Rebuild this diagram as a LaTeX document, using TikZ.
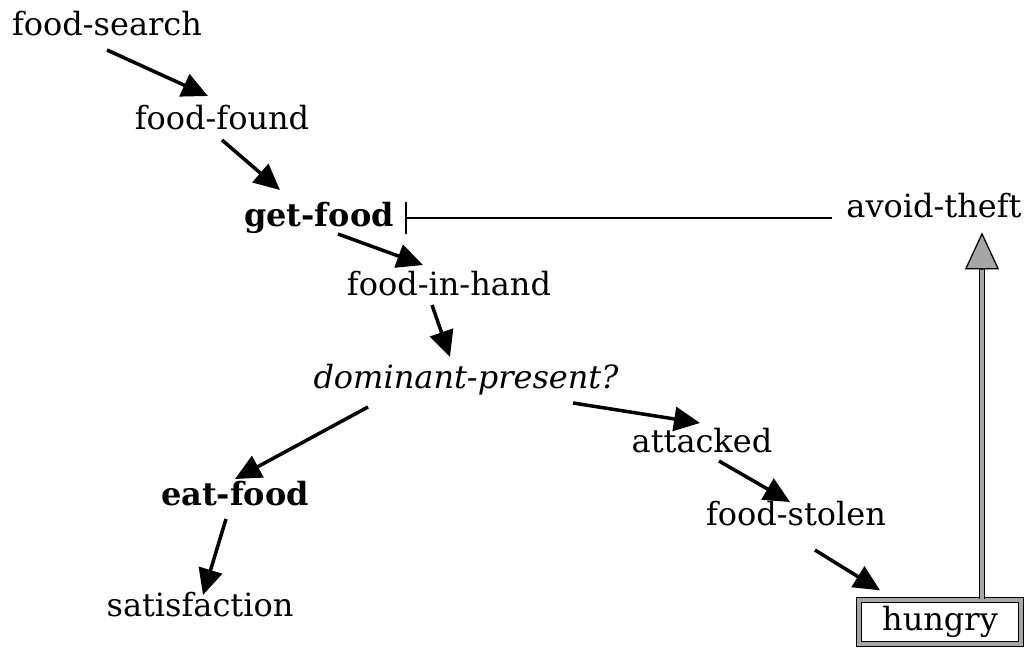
\documentclass[tikz,border=0pt]{standalone}
\usepackage{fontspec}
\setmainfont{DejaVu Serif}
\usepackage{tikz}
\usetikzlibrary{arrows.meta,positioning}

\tikzset{
  word/.style={inner sep=0pt,anchor=base,font=\fontsize{32}{38}\selectfont},
  strong/.style={word,font=\fontsize{32}{38}\selectfont\bfseries},
  query/.style={word,font=\fontsize{32}{38}\selectfont\itshape},
  leads/.style={line width=3.5pt,-{Triangle[length=26pt,width=24pt]}},
  blocks/.style={line width=1.5pt,-{Bar[width=32pt,line width=1.5pt]}},
  hatched/.style={draw,line width=1.3pt,double=gray!70,double distance=4pt},
}

\begin{document}
\begin{tikzpicture}[x=1pt,y=-1pt]
\useasboundingbox (0,0) rectangle (1029,650);

\node[word]   (FS)  at (107,36)  {food-search};
\node[word]   (FF)  at (222,130) {food-found};
\node[strong] (GF)  at (319,226) {get-food};
\node[word]   (FIH) at (449,295) {food-in-hand};
\node[query]  (DP)  at (466,388) {dominant-present?};
\node[word]   (ATK) at (702,452) {attacked};
\node[word]   (FST) at (796,525) {food-stolen};
\node[strong] (EF)  at (235,505) {eat-food};
\node[word]   (SAT) at (200,616) {satisfaction};
\node[word]   (AV)  at (934,218) {avoid-theft};
\node[hatched,font=\fontsize{32}{38}\selectfont,minimum width=162pt,minimum height=44pt,inner sep=0pt] (HU) at (940,622) {hungry};

\draw[leads] ([shift={(0,14)}]FS.base)    -- ([shift={(-14,-34)}]FF.base);
\draw[leads] ([shift={(0,10)}]FF.base)    -- ([shift={(-39,-36)}]GF.base);
\draw[leads] ([shift={(19,8)}]GF.base)    -- ([shift={(-26,-30)}]FIH.base);
\draw[leads] ([shift={(-17,10)}]FIH.base) -- ([shift={(-16,-31)}]DP.base);
\draw[leads] ([shift={(-98,19)}]DP.base)  -- ([shift={(0,-26)}]EF.base);
\draw[leads] ([shift={(107,15)}]DP.base)  -- ([shift={(-2,-29)}]ATK.base);
\draw[leads] ([shift={(17,9)}]ATK.base)   -- ([shift={(-6,-23)}]FST.base);
\draw[leads] ([shift={(-9,14)}]EF.base)   -- ([shift={(3,-21)}]SAT.base);
\draw[leads] ([shift={(19,25)}]FST.base)  -- ([shift={(-60,-9)}]HU.north);

% inhibition
\draw[blocks] ([shift={(-102,0)}]AV.base) -- ([shift={(86,-8)}]GF.base);

% hungry drives avoid-theft
\draw[hatched] ([xshift=42pt]HU.north) -- ([shift={(42,-330)}]HU.north);
\draw[line width=1.3pt,-{Triangle[length=37pt,width=34pt,fill=gray!70]}]
  ([shift={(42,-330)}]HU.north) -- ([shift={(42,-367)}]HU.north);
\end{tikzpicture}
\end{document}
